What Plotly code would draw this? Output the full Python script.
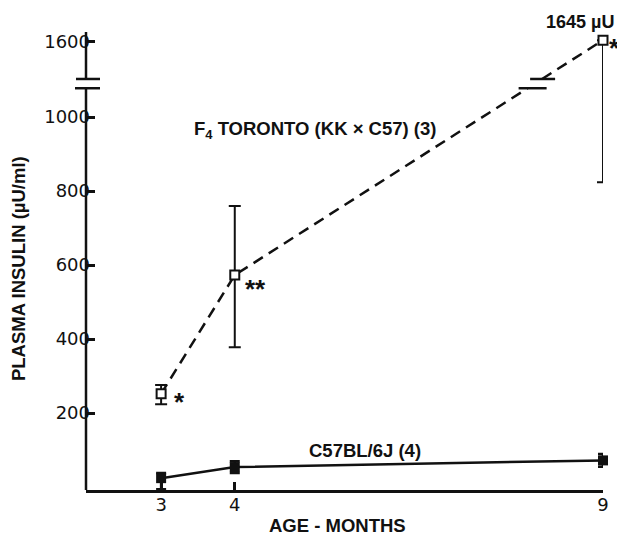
import plotly.graph_objects as go

# ---------------- data ----------------
ages = [3, 4, 9]

f4_insulin = [252, 573, 1603]          # plotted position of F4 Toronto points (µU/ml)
f4_err_plus = [24, 187, 0]
f4_err_minus = [28, 195, 779]

c57_insulin = [24, 54, 72]
c57_err_plus = [14, 16, 17]
c57_err_minus = [30, 16, 17]

y_tick_values = [200, 400, 600, 800, 1000, 1600]
y_tick_labels = ["200", "400", "600", "800", "1000", "1600"]
x_tick_values = [3, 4, 9]
x_tick_labels = ["3", "4", "9"]

# broken y axis: lower segment up to LOW_TOP, upper segment starts at HIGH_BOTTOM
LOW_TOP = 1078
HIGH_BOTTOM = 1498
GAP = 25
OFFSET = HIGH_BOTTOM - (LOW_TOP + GAP)


def disp(v):
    return v if v <= LOW_TOP else v - OFFSET


Y_MIN, Y_MAX = -8, disp(1625)
X_MIN, X_MAX = 1.98, 9.0

f4_disp = [disp(v) for v in f4_insulin]
f4_ep = [disp(v + p) - disp(v) for v, p in zip(f4_insulin, f4_err_plus)]
f4_em = [disp(v) - disp(v - m) for v, m in zip(f4_insulin, f4_err_minus)]

# split the dashed F4 line at the axis break (interpolated in display space)
lower_x, lower_y, upper_x, upper_y = [], [], [], []
cross_low = cross_high = None
for i in range(len(ages)):
    if f4_disp[i] <= LOW_TOP:
        lower_x.append(ages[i]); lower_y.append(f4_disp[i])
    else:
        if cross_low is None and i > 0:
            x0, y0, x1, y1 = ages[i - 1], f4_disp[i - 1], ages[i], f4_disp[i]
            xl = x0 + (LOW_TOP - y0) * (x1 - x0) / (y1 - y0)
            xh = x0 + (LOW_TOP + GAP - y0) * (x1 - x0) / (y1 - y0)
            cross_low, cross_high = xl, xh
            lower_x.append(xl); lower_y.append(LOW_TOP)
            upper_x.append(xh); upper_y.append(LOW_TOP + GAP)
        upper_x.append(ages[i]); upper_y.append(f4_disp[i])

BLACK = "#111111"
dash = "11px,7px"

fig = go.Figure()
fig.add_trace(go.Scatter(x=lower_x, y=lower_y, mode="lines",
                         line=dict(color=BLACK, width=2.5, dash=dash),
                         hoverinfo="skip", cliponaxis=False))
fig.add_trace(go.Scatter(x=upper_x, y=upper_y, mode="lines",
                         line=dict(color=BLACK, width=2.5, dash=dash),
                         hoverinfo="skip", cliponaxis=False))
fig.add_trace(go.Scatter(x=ages, y=f4_disp, mode="markers",
                         marker=dict(symbol="square", size=9, color="white",
                                     line=dict(color=BLACK, width=2)),
                         error_y=dict(type="data", array=f4_ep, arrayminus=f4_em,
                                      symmetric=False, color=BLACK, thickness=2, width=6),
                         cliponaxis=False))
fig.add_trace(go.Scatter(x=ages, y=c57_insulin, mode="lines+markers",
                         line=dict(color=BLACK, width=2.5),
                         marker=dict(symbol="square", size=10, color=BLACK),
                         error_y=dict(type="data", array=c57_err_plus, arrayminus=c57_err_minus,
                                      symmetric=False, color=BLACK, thickness=2.5, width=5),
                         cliponaxis=False))

shapes = [
    # y axis line, two segments
    dict(type="line", xref="paper", yref="y", x0=0, x1=0, y0=Y_MIN, y1=LOW_TOP,
         line=dict(color=BLACK, width=2.5)),
    dict(type="line", xref="paper", yref="y", x0=0, x1=0, y0=LOW_TOP + GAP, y1=Y_MAX,
         line=dict(color=BLACK, width=2.5)),
    # break marks on the axis
    dict(type="line", xref="paper", yref="y", xsizemode="pixel", xanchor=0,
         x0=-11, x1=14, y0=LOW_TOP, y1=LOW_TOP, line=dict(color=BLACK, width=2.5)),
    dict(type="line", xref="paper", yref="y", xsizemode="pixel", xanchor=0,
         x0=-10, x1=14, y0=LOW_TOP + GAP, y1=LOW_TOP + GAP, line=dict(color=BLACK, width=2.5)),
]
if cross_low is not None:
    shapes += [
        dict(type="line", xref="x", yref="y", xsizemode="pixel", xanchor=cross_low,
             x0=-9, x1=19, y0=LOW_TOP, y1=LOW_TOP, line=dict(color=BLACK, width=2.5)),
        dict(type="line", xref="x", yref="y", xsizemode="pixel", xanchor=cross_high,
             x0=-12, x1=13, y0=LOW_TOP + GAP, y1=LOW_TOP + GAP, line=dict(color=BLACK, width=2.5)),
    ]

BOLD = dict(family="Liberation Sans", size=18.5, color=BLACK, weight="bold")
STAR = dict(family="Liberation Sans", size=26, color=BLACK, weight="bold")
ann = [
    dict(x=5.09, y=965, xref="x", yref="y", text="F<sub>4</sub> TORONTO (KK × C57) (3)",
         showarrow=False, font=BOLD),
    dict(x=5.77, y=100, xref="x", yref="y", text="C57BL/6J (4)", showarrow=False, font=BOLD),
    dict(x=8.69, y=1.0218, xref="x", yref="paper", text="1645 µU", showarrow=False,
         xanchor="center", yanchor="middle",
         font=dict(family="Liberation Sans", size=18, color=BLACK, weight="bold")),
    dict(x=ages[0], y=f4_disp[0], xref="x", yref="y", text="*", showarrow=False,
         xanchor="left", xshift=11, yshift=-8, font=STAR),
    dict(x=ages[1], y=f4_disp[1], xref="x", yref="y", text="**", showarrow=False,
         xanchor="left", xshift=8, yshift=-14, font=STAR),
    dict(x=1.0, y=f4_disp[2], xref="paper", yref="y", text="*", showarrow=False,
         xanchor="left", xshift=4, yshift=-8, font=STAR),
    dict(x=-0.1315, y=0.4825, xref="paper", yref="paper", text="PLASMA INSULIN (µU/ml)",
         textangle=-90, showarrow=False, xanchor="center", yanchor="middle", font=BOLD),
    dict(x=5.40, y=-0.0786, xref="x", yref="paper", text="AGE - MONTHS",
         showarrow=False, xanchor="center", yanchor="middle", font=BOLD),
]

fig.update_layout(
    width=625, height=535,
    margin=dict(l=78, r=30, t=24, b=53),
    paper_bgcolor="white", plot_bgcolor="white",
    showlegend=False,
    shapes=shapes, annotations=ann,
    font=dict(family="DejaVu Sans", size=18, color=BLACK),
    xaxis=dict(range=[X_MIN, X_MAX], showgrid=False, zeroline=False,
               showline=True, linecolor=BLACK, linewidth=2.5,
               ticks="inside", ticklen=8, tickwidth=2.5, tickcolor=BLACK,
               tickvals=x_tick_values, ticktext=x_tick_labels, ticklabelstandoff=-3,
               tickfont=dict(family="DejaVu Sans", size=18, color=BLACK)),
    yaxis=dict(range=[Y_MIN, Y_MAX], showgrid=False, zeroline=False, showline=False,
               ticks="inside", ticklen=9, tickwidth=2.5, tickcolor=BLACK,
               tickvals=[disp(v) for v in y_tick_values], ticktext=y_tick_labels,
               ticklabelstandoff=-5,
               tickfont=dict(family="DejaVu Sans", size=18, color=BLACK)),
)

fig.write_html("out.html",
               post_script="document.documentElement.style.overflow='hidden';"
                           "document.body.style.overflow='hidden';")
